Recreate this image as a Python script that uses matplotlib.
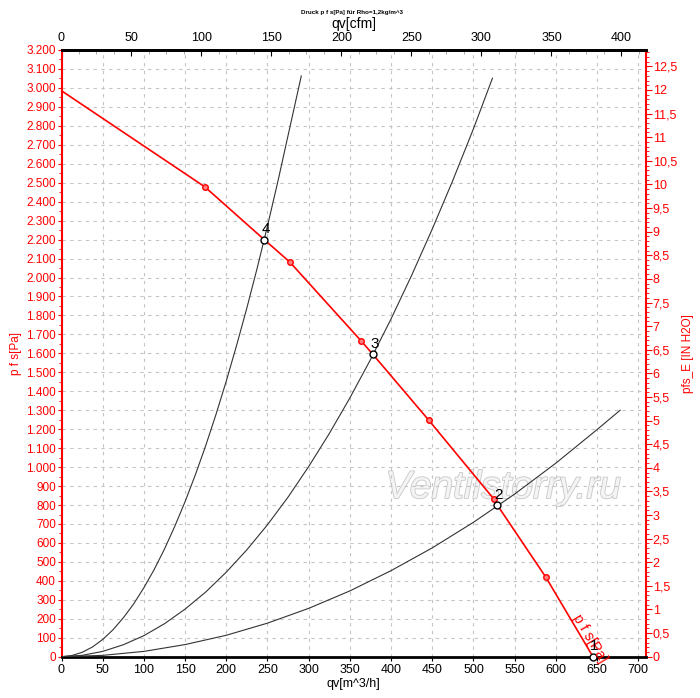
import numpy as np
import matplotlib
matplotlib.use('Agg')
import matplotlib.pyplot as plt
import matplotlib.patheffects as pe
from matplotlib.ticker import MultipleLocator, AutoMinorLocator, FuncFormatter

plt.rcParams['font.family'] = ['Liberation Sans', 'DejaVu Sans']

# Fan curve p_fs (Pa) vs qv (m^3/h)
fan_q = [0, 174, 246, 277, 364, 378, 446, 525, 529, 588, 645]
fan_p = [2985, 2478, 2200, 2082, 1664, 1594, 1246, 830, 799, 418, 0]

# measured points on the fan curve (red circles)
meas_q = [174, 277, 364, 446, 525, 588]
meas_p = [2478, 2082, 1664, 1246, 830, 418]

# operating points
op_labels = ['1', '2', '3', '4']
op_q = [645, 529, 378, 246]
op_p = [0, 799, 1594, 2200]

# system curves
sys4_q = [0, 12.5, 25, 37.5, 50, 62.5, 75, 87.5, 100, 112.5, 125, 137.5, 150,
          162.5, 175, 187.5, 200, 212.5, 225, 237.5, 250, 262.5, 275, 291]
sys4_p = [0, 6, 23, 51, 91, 142, 205, 278, 364, 460, 568, 688, 818,
          960, 1113, 1278, 1454, 1642, 1840, 2050, 2272, 2505, 2750, 3063]
sys3_q = [0, 25, 50, 75, 100, 125, 150, 175, 200, 225, 250, 275, 300,
          325, 350, 375, 400, 425, 450, 475, 500, 523]
sys3_p = [0, 7, 28, 63, 111, 174, 251, 341, 446, 564, 696, 842, 1003,
          1177, 1365, 1567, 1782, 2012, 2256, 2513, 2785, 3051]
sys2_q = [0, 50, 100, 150, 200, 250, 300, 350, 400, 450, 500, 550, 600, 650, 678]
sys2_p = [0, 7, 28, 64, 113, 177, 255, 347, 454, 574, 709, 858, 1021, 1198, 1300]

X_MAX = 709
Y_MAX = 3200
CFM = 0.588578
IN_H2O = 249.089

fig = plt.figure(figsize=(7, 6.98), dpi=100)
ax = fig.add_axes([61.5 / 700, 41.3 / 698, (645.7 - 61.5) / 700, (656.7 - 50) / 698])
ax.set_xlim(0, X_MAX)
ax.set_ylim(0, Y_MAX)

# grid
ax.set_xticks(np.arange(0, 701, 50))
ax.set_yticks(np.arange(0, 3201, 100))
ax.yaxis.set_minor_locator(MultipleLocator(50))
ax.grid(True, linestyle=(0, (3, 4)), color='#c4c4c4', linewidth=0.8, zorder=0)

# watermark
ax.text(0.756, 0.278, 'Ventilstorry.ru', transform=ax.transAxes, fontsize=28,
        style='italic', color='#f4f4f4', ha='center', va='center', zorder=1,
        path_effects=[pe.withStroke(linewidth=1.2, foreground='#c8c8c8')])

# system curves
for q, p in [(sys4_q, sys4_p), (sys3_q, sys3_p), (sys2_q, sys2_p)]:
    ax.plot(q, p, color='#333333', linewidth=0.8, zorder=3)

# fan curve
ax.plot(fan_q, fan_p, color='red', linewidth=1.2, zorder=4)
ax.plot(meas_q, meas_p, linestyle='none', marker='o', markersize=4,
        markerfacecolor='#ff8080', markeredgecolor='red', markeredgewidth=1, zorder=5)

# operating points
ax.plot(op_q, op_p, linestyle='none', marker='o', markersize=5,
        markerfacecolor='white', markeredgecolor='black', markeredgewidth=1,
        zorder=6, clip_on=False)
for lab, q, p in zip(op_labels, op_q, op_p):
    ax.annotate(lab, (q, p), xytext=(1, 2.5), textcoords='offset points',
                ha='center', va='bottom', fontsize=11, color='black', zorder=7)

ax.text(641, 95, 'p f s[Pa]', color='red', fontsize=10.5, rotation=-59,
        ha='center', va='center', zorder=6)

# spines
ax.spines['left'].set_color('red')
ax.spines['left'].set_linewidth(1.5)
ax.spines['right'].set_visible(False)
ax.spines['bottom'].set_linewidth(2)
ax.spines['top'].set_linewidth(2)

# left axis
ax.yaxis.set_major_formatter(FuncFormatter(lambda v, _: f"{int(v):,}".replace(',', '.')))
ax.tick_params(axis='y', which='both', colors='red', labelsize=8.5, direction='out')
ax.tick_params(axis='y', which='major', length=3, pad=1)
ax.tick_params(axis='y', which='minor', length=2)
ax.set_ylabel('p f s[Pa]', color='red', fontsize=8.5, labelpad=3)

# bottom axis
ax.tick_params(axis='x', which='major', labelsize=9, length=3, pad=2, direction='out')
ax.set_xlabel('qv[m^3/h]', fontsize=9, labelpad=2)

# top axis (cfm)
top = ax.secondary_xaxis('top', functions=(lambda q: q * CFM, lambda c: c / CFM))
top.set_xticks(np.arange(0, 401, 50))
top.xaxis.set_minor_locator(AutoMinorLocator(4))
top.tick_params(which='both', direction='in', labelsize=9, pad=4)
top.tick_params(which='major', length=4)
top.tick_params(which='minor', length=3, color='#999999')
top.spines['top'].set_linewidth(2)
top.set_xlabel('qv[cfm]', fontsize=10, labelpad=3)

# right axis (in H2O)
right = ax.secondary_yaxis('right', functions=(lambda p: p / IN_H2O, lambda h: h * IN_H2O))
right.set_yticks(np.arange(0, 12.51, 0.5))
right.yaxis.set_minor_locator(MultipleLocator(0.1))
right.yaxis.set_major_formatter(FuncFormatter(lambda v, _: f"{v:g}".replace('.', ',')))
right.tick_params(which='both', colors='red', labelsize=9, direction='out')
right.tick_params(which='major', length=4, pad=1)
right.tick_params(which='minor', length=2)
right.spines['right'].set_color('red')
right.spines['right'].set_linewidth(1.5)
right.set_ylabel('pfs_E [IN H2O]', color='red', fontsize=8.5, labelpad=4)

fig.text(0.503, 0.982, 'Druck p f s[Pa] für Rho=1,2kg/m^3', fontsize=4.5,
         fontweight='bold', ha='center', va='center')

fig.savefig('out.png', dpi=100, facecolor='white')
